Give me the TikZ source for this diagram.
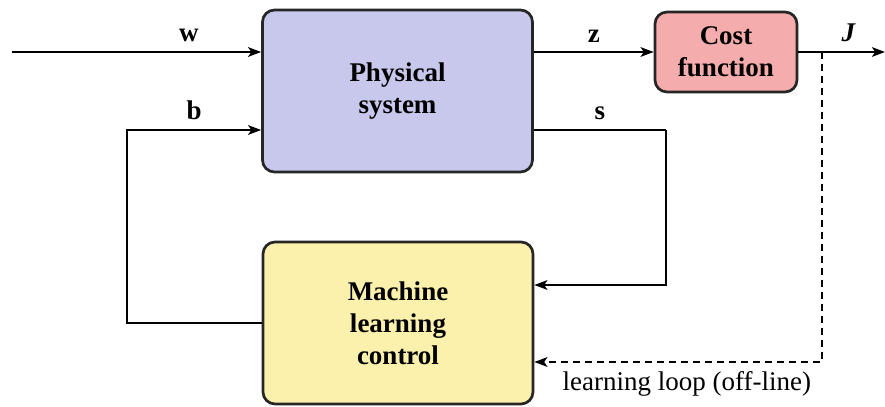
\documentclass[tikz,border=0pt]{standalone}
\usepackage{fontspec}
\setmainfont{Liberation Serif}
\usetikzlibrary{arrows.meta,positioning}

\definecolor{plantblue}{RGB}{200,200,236}
\definecolor{costred}{RGB}{245,172,172}
\definecolor{mlyellow}{RGB}{251,241,172}

\begin{document}
\begin{tikzpicture}[x=0.5pt, y=0.5pt,
  >={Stealth[length=6.5pt, width=4.8pt, inset=1.6pt]}]
\tikzstyle{box} = [rectangle, rounded corners=6pt, draw=black!85,
  line width=1.35pt, align=center,
  font=\fontsize{13.5}{16}\selectfont\bfseries]
\tikzstyle{sig} = [->, line width=1.1pt]
\tikzstyle{lbl} = [font=\fontsize{13.5}{16}\selectfont\bfseries]

\useasboundingbox (0,0) rectangle (885,-407);

% blocks
\node[box, fill=plantblue, minimum width=135pt, minimum height=81pt]
  (plant) at (397.5,-91) {Physical\\system};
\node[box, fill=costred, minimum width=71pt, minimum height=40pt]
  (cost) at (726,-52) {Cost\\function};
\node[box, fill=mlyellow, minimum width=135pt, minimum height=81pt]
  (mlc) at (398,-323) {Machine\\learning\\control};

% free ends and corners
\coordinate (win) at (12,-52);
\coordinate (jout) at (885,-52);
\coordinate (bcorner) at (127,-130);
\coordinate (scorner) at (666,-130);
\coordinate (tap) at (822,-52);
\path (mlc.east) ++(0,38) coordinate (sin);
\path (mlc.east) ++(0,-39) coordinate (loopin);

% signals
\draw[sig] (win) -- (plant.west |- win)
  node[lbl, pos=0.71, above=1pt] (wlbl) {w};
\draw[sig] (mlc.west) -| (bcorner) -- (bcorner -| plant.west)
  node[lbl, midway, above=1pt] (blbl) {b};
\draw[sig] (plant.east |- cost.west) -- (cost.west)
  node[lbl, midway, above=1pt] (zlbl) {z};
\draw[sig] (cost.east) -- (jout)
  node[lbl, pos=0.58, above=1pt] (jlbl) {\textit{J}};
\draw[line width=1.1pt] (plant.east |- scorner) -- (scorner)
  node[lbl, midway, above=1pt] (slbl) {s};
\draw[sig] (scorner) |- (sin);

% off-line learning loop
\draw[sig, dash pattern=on 3.5pt off 2.5pt] (tap) |- (loopin)
  node[pos=0.735, below=1pt, font=\fontsize{13.5}{16}\selectfont] (looplbl)
  {learning loop (off-line)};
\end{tikzpicture}
\end{document}
